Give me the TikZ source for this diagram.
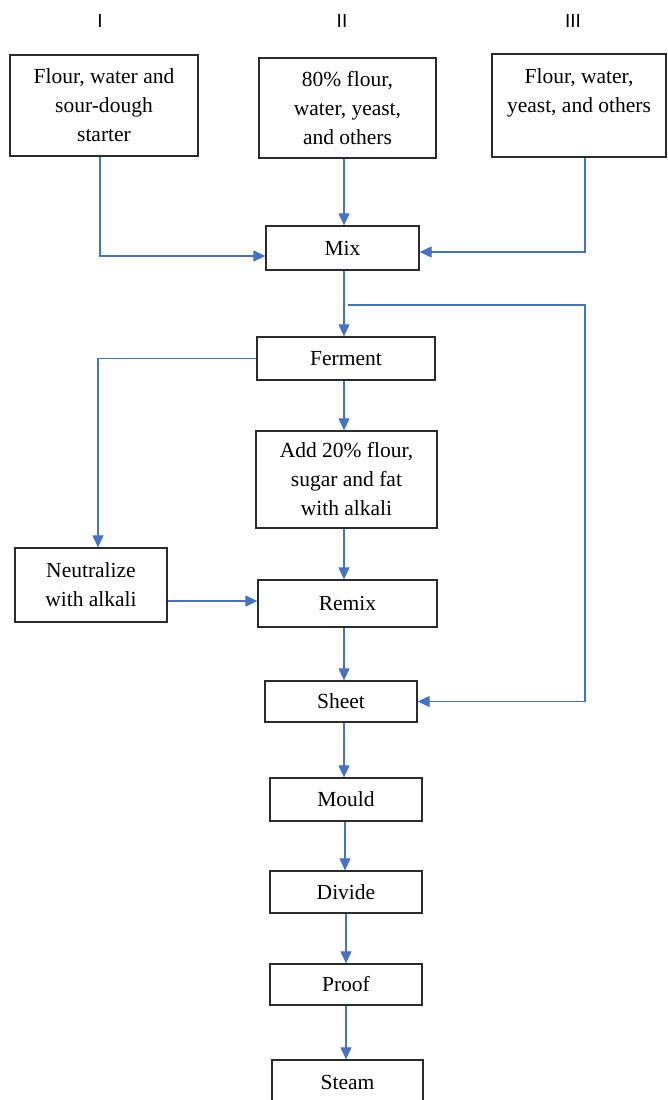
\documentclass[tikz,border=0pt]{standalone}
\usepackage{fontspec}
\setmainfont{Liberation Serif}
\newfontfamily\labfont{Liberation Sans}
\usetikzlibrary{arrows.meta,calc}
\definecolor{arrowblue}{HTML}{4472C4}
\definecolor{boxline}{HTML}{2B2B2B}
\begin{document}
\begin{tikzpicture}[x=1pt,y=-1pt,
  box/.style={draw=boxline,line width=1.3pt,inner sep=0pt,align=center,
    font=\fontsize{21.5}{29}\selectfont},
  arr/.style={draw=arrowblue,line width=1.1pt,-{Triangle[length=12pt,width=11pt]}},
  colhead/.style={font=\labfont\fontsize{19}{22}\selectfont}]
\useasboundingbox (0,0) rectangle (667,1100);
\clip (0,0) rectangle (667,1100);
% column headings
\node[colhead] (h1) at (100,21) {I};
\node[colhead] (h2) at (342,21) {II};
\node[colhead] (h3) at (573,21) {III};
% boxes
\node[box,minimum width=188pt,minimum height=101pt] (b1) at (104,105.5) {Flour, water and\\sour-dough\\starter};
\node[box,minimum width=177pt,minimum height=100pt] (b2) at (347.5,108) {80\% flour,\\water, yeast,\\and others};
\node[box,minimum width=174pt,minimum height=103pt] (b3) at (579,105.5) {Flour, water,\\yeast, and others\\\mbox{}};
\node[box,minimum width=153pt,minimum height=44pt] (mix) at (342.5,248) {Mix};
\node[box,minimum width=178pt,minimum height=43pt] (ferment) at (346,358.5) {Ferment};
\node[box,minimum width=181pt,minimum height=97pt] (add) at (346.5,479.5) {Add 20\% flour,\\sugar and fat\\with alkali};
\node[box,minimum width=152pt,minimum height=74pt] (neut) at (91,585) {Neutralize\\with alkali};
\node[box,minimum width=179pt,minimum height=47pt] (remix) at (347.5,603.5) {Remix};
\node[box,minimum width=152pt,minimum height=41pt] (sheet) at (341,701.5) {Sheet};
\node[box,minimum width=152pt,minimum height=43pt] (mould) at (346,799.5) {Mould};
\node[box,minimum width=152pt,minimum height=42pt] (divide) at (346,892) {Divide};
\node[box,minimum width=152pt,minimum height=41pt] (proof) at (346,984.5) {Proof};
\node[box,minimum width=151pt,minimum height=44pt] (steam) at (347.5,1082) {Steam};
% column coordinates
\coordinate (lc1) at (100,0);
\coordinate (lc2) at (98,0);
\coordinate (mc) at (344,0);
\coordinate (mc2) at (345,0);
\coordinate (mc3) at (346,0);
\coordinate (rc) at (585,0);
\coordinate (br) at (348,305);
% connectors
\draw[arr] (b1.south -| lc1) -- ([yshift=-8pt]mix.west -| lc1) -- ([yshift=-8pt]mix.west);
\draw[arr] (b2.south -| mc) -- (mix.north -| mc);
\draw[arr] (b3.south -| rc) -- ([yshift=-4pt]mix.east -| rc) -- ([yshift=-4pt]mix.east);
\draw[arr] (mix.south -| mc) -- (ferment.north -| mc);
\draw[arr] (br) -- (br -| rc) -- (sheet.east -| rc) -- (sheet.east);
\draw[arr] (ferment.west) -- (ferment.west -| lc2) -- (neut.north -| lc2);
\draw[arr] (ferment.south -| mc) -- (add.north -| mc);
\draw[arr] (add.south -| mc) -- (remix.north -| mc);
\draw[arr] ([yshift=-16pt]neut.east) -- ([yshift=-16pt]neut.east -| remix.west);
\draw[arr] (remix.south -| mc) -- (sheet.north -| mc);
\draw[arr] (sheet.south -| mc) -- (mould.north -| mc);
\draw[arr] (mould.south -| mc2) -- (divide.north -| mc2);
\draw[arr] (divide.south -| mc3) -- (proof.north -| mc3);
\draw[arr] (proof.south -| mc3) -- (steam.north -| mc3);
\end{tikzpicture}
\end{document}
